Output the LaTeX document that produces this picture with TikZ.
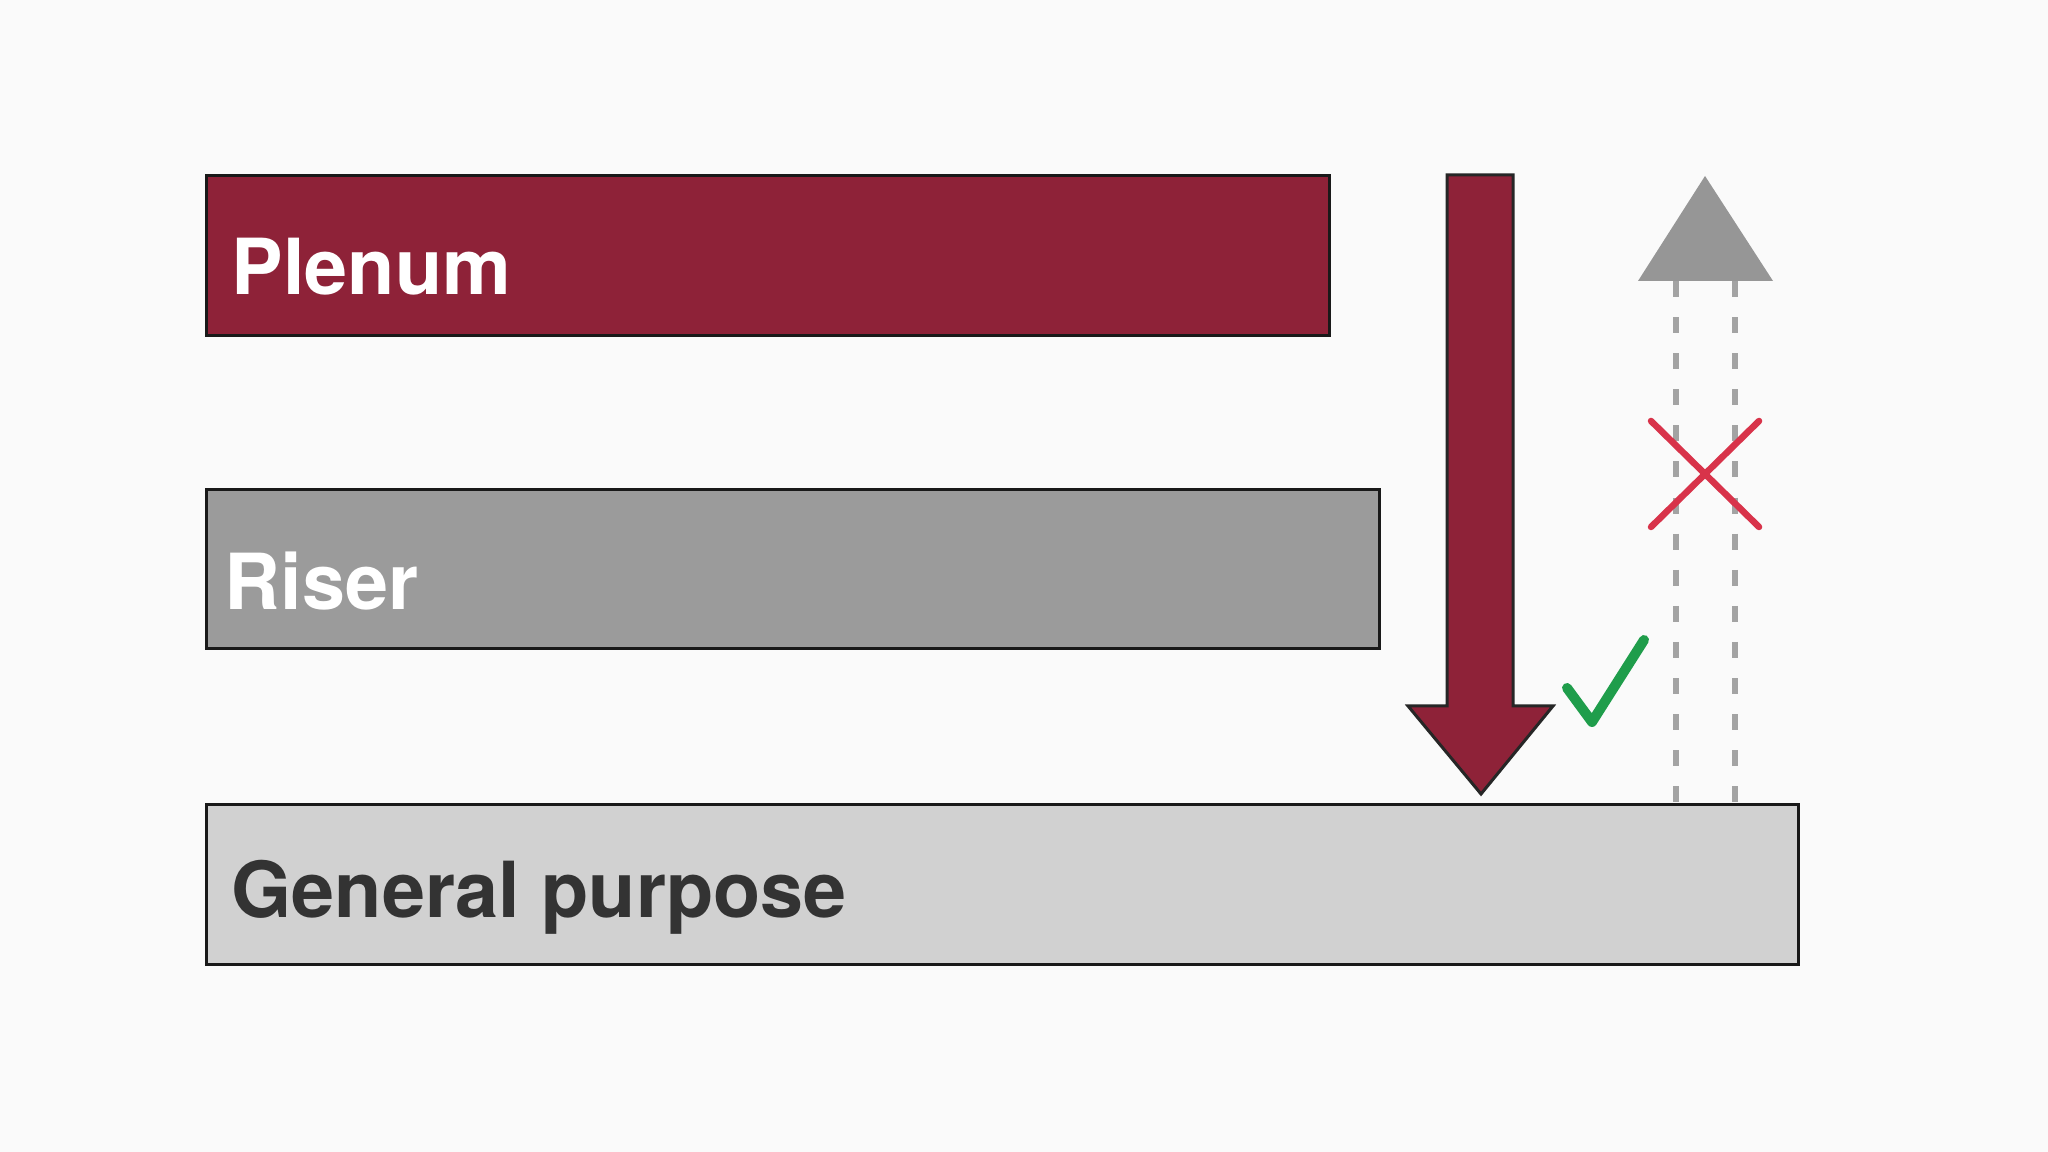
\documentclass[tikz,border=0pt]{standalone}
\usepackage{fontspec}
\setmainfont{TeX Gyre Heros}
\usetikzlibrary{positioning, calc}

\definecolor{plenumred}{HTML}{8E2238}
\definecolor{risergray}{HTML}{9B9B9B}
\definecolor{generalgray}{HTML}{D1D1D1}
\definecolor{darktext}{HTML}{333333}
\definecolor{upgray}{HTML}{969696}
\definecolor{dashgray}{HTML}{A3A3A3}
\definecolor{crossred}{HTML}{D8334A}
\definecolor{tickgreen}{HTML}{1F9D4B}
\definecolor{paper}{HTML}{FAFAFA}

\begin{document}
\begin{tikzpicture}[
    x=0.1mm, y=-0.1mm,        % one unit = one pixel of the 2048 x 1152 canvas
    bar/.style={rectangle, draw=black!90, line width=0.3mm, inner sep=0pt, anchor=north west},
    barlabel/.style={font=\fontsize{22}{26}\selectfont\bfseries, inner sep=0pt, anchor=base west},
    bigarrow/.style={fill=plenumred, draw=black!85, line width=0.3mm, line join=miter},
    dashline/.style={draw=dashgray, line width=0.6mm, dash pattern=on 1.6mm off 2.01mm},
    cross/.style={draw=crossred, line width=0.65mm, line cap=round},
    tick/.style={draw=tickgreen, line width=1mm, line cap=round, line join=round}
  ]

  % --- CANVAS ---
  \useasboundingbox (0,0) rectangle (2048,1152);
  \fill[paper] (0,0) rectangle (2048,1152);

  % --- CABLE RATING BARS ---
  \node[bar, fill=plenumred, minimum width=112.3mm, minimum height=16mm] (plenum) at (205,174) {};
  \node[bar, fill=risergray, minimum width=117.3mm, minimum height=15.9mm] (riser) at (205,488) {};
  \node[bar, fill=generalgray, minimum width=159.2mm, minimum height=16mm] (general) at (205,803) {};

  % --- LABELS ---
  \node[barlabel, text=white] (plenumtext) at ($(plenum.south west)+(26,-42)$) {Plenum};
  \node[barlabel, text=white] (risertext) at ($(riser.south west)+(19,-40)$) {Riser};
  \node[barlabel, text=darktext] (generaltext) at ($(general.south west)+(26,-48)$) {General purpose};

  % --- DOWNWARD SUBSTITUTION (allowed) ---
  \coordinate (shaftL) at (1447,175);
  \coordinate (shaftR) at (1513,175);
  \coordinate (tip) at (1481,794);
  \draw[bigarrow] (shaftL) -- (shaftR) -- (1513,706) -- (1553,706)
    -- (tip) -- (1408,706) -- (1447,706) -- cycle;

  % check mark
  \draw[tick] (1567,688) -- (1592,722) -- (1644,640);

  % --- UPWARD SUBSTITUTION (not allowed) ---
  \coordinate (apex) at (1705,176);
  \coordinate (baseL) at (1676,281);
  \coordinate (baseR) at (1735,281);
  \fill[upgray] (apex) -- (1773,281) -- (1638,281) -- cycle;

  \draw[dashline] (baseL) -- (baseL |- general.north);
  \draw[dashline] (baseR) -- (baseR |- general.north);

  % cross
  \coordinate (xc) at (1705,474);
  \draw[cross] ($(xc)+(-54,-53)$) -- ($(xc)+(54,53)$);
  \draw[cross] ($(xc)+(-54,53)$) -- ($(xc)+(54,-53)$);

\end{tikzpicture}
\end{document}
